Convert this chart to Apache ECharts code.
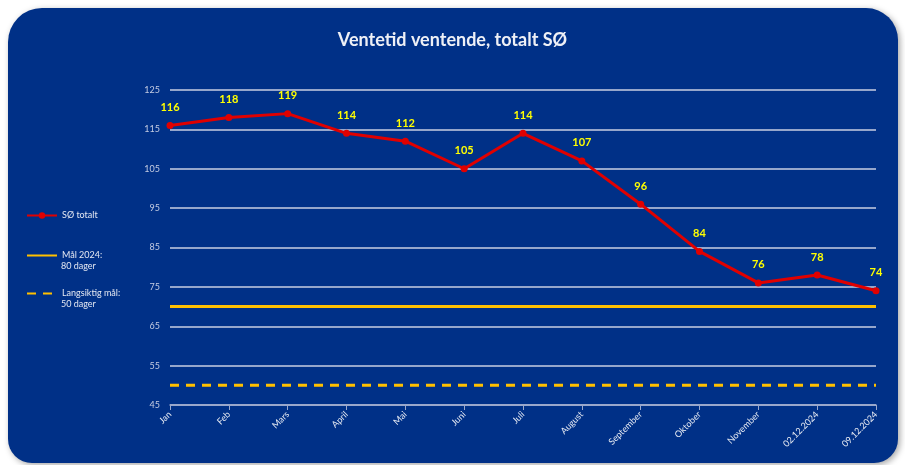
<!DOCTYPE html>
<html>
<head>
<meta charset="utf-8">
<title>Ventetid ventende, totalt SØ</title>
<script src="https://cdn.jsdelivr.net/npm/echarts@6/dist/echarts.min.js"></script>
<style>
  html, body { margin: 0; padding: 0; background: #ffffff; }
  #main { width: 905px; height: 465px; }
</style>
</head>
<body>
<div id="main"></div>
<script>
// kategorier (x-akse)
var categories = ['Jan', 'Feb', 'Mars', 'April', 'Mai', 'Juni', 'Juli', 'August',
  'September', 'Oktober', 'November', '02.12.2024', '09.12.2024'];
// SØ totalt
var soTotalt = [116, 118, 119, 114, 112, 105, 114, 107, 96, 84, 76, 78, 74];
// mållinjer
var maal2024 = [70, 70, 70, 70, 70, 70, 70, 70, 70, 70, 70, 70, 70];
var langsiktig = [50, 50, 50, 50, 50, 50, 50, 50, 50, 50, 50, 50, 50];
// y-akse
var yMin = 45, yMax = 125, yStep = 10;

var font = 'Lato, "Noto Sans", sans-serif';
var legendColor = '#e4e8f2';
var chart = echarts.init(document.getElementById('main'));

// en legende per linje
function legendFor(name, top, hideSymbol) {
  var item = { name: name };
  if (hideSymbol) item.itemStyle = { opacity: 0 };
  return {
    orient: 'vertical',
    left: 26,
    top: top,
    padding: 0,
    itemWidth: 30,
    itemHeight: 8,
    textStyle: { color: legendColor, fontSize: 9, lineHeight: 13, fontFamily: font },
    data: [item]
  };
}

// andre tekstlinje i legenden
function subLine(text, y) {
  return {
    type: 'text',
    left: 61,
    top: y - 6,
    silent: true,
    style: { text: text, fill: legendColor, fontSize: 9, fontFamily: font }
  };
}

chart.setOption({
  backgroundColor: 'transparent',
  animation: false,
  textStyle: { fontFamily: font },
  graphic: [{
    type: 'rect',
    z: -10,
    silent: true,
    shape: { x: 8, y: 8, width: 890, height: 455, r: [34, 32, 24, 24] },
    style: {
      fill: '#003087',
      shadowBlur: 6,
      shadowColor: 'rgba(0,0,0,0.35)',
      shadowOffsetX: 2,
      shadowOffsetY: 2
    }
  },
  subLine('80 dager', 268),
  subLine('50 dager', 306)],
  title: {
    text: 'Ventetid ventende, totalt SØ',
    left: 'center',
    top: 26,
    textStyle: { color: '#eef0f6', fontSize: 18, fontWeight: 'bold', fontFamily: font }
  },
  legend: [
    legendFor('SØ totalt', 209, false),
    legendFor('Mål 2024:', 249, true),
    legendFor('Langsiktig mål:', 287, true)
  ],
  grid: { left: 170, right: 29, top: 90, bottom: 60 },
  xAxis: {
    type: 'category',
    boundaryGap: false,
    data: categories,
    axisLine: { lineStyle: { color: '#9aa8cc', width: 1.5 } },
    axisTick: { show: true, length: 5, lineStyle: { color: '#9aa8cc' } },
    axisLabel: { rotate: 45, color: '#e8ecf4', fontSize: 9, margin: 8, interval: 0 },
    splitLine: { show: false }
  },
  yAxis: {
    type: 'value',
    min: yMin,
    max: yMax,
    interval: yStep,
    axisLine: { show: false },
    axisTick: { show: false },
    axisLabel: { color: '#c4cce2', fontSize: 9, margin: 10 },
    splitLine: { lineStyle: { color: '#c8cee2', width: 1.5 } }
  },
  series: [{
    name: 'SØ totalt',
    type: 'line',
    data: soTotalt,
    symbol: 'circle',
    symbolSize: 7,
    lineStyle: { color: '#e00000', width: 3 },
    itemStyle: { color: '#e00000' },
    label: {
      show: true,
      position: 'top',
      distance: 9,
      color: '#ffff00',
      fontSize: 11,
      fontWeight: 'bold',
      fontFamily: font
    },
    z: 5
  }, {
    name: 'Mål 2024:',
    type: 'line',
    data: maal2024,
    symbol: 'none',
    lineStyle: { color: '#ffc000', width: 3 },
    itemStyle: { color: '#ffc000' },
    z: 3
  }, {
    name: 'Langsiktig mål:',
    type: 'line',
    data: langsiktig,
    symbol: 'none',
    lineStyle: { color: '#ffc000', width: 3, type: [9, 7] },
    itemStyle: { color: '#ffc000' },
    z: 3
  }]
});
</script>
</body>
</html>
